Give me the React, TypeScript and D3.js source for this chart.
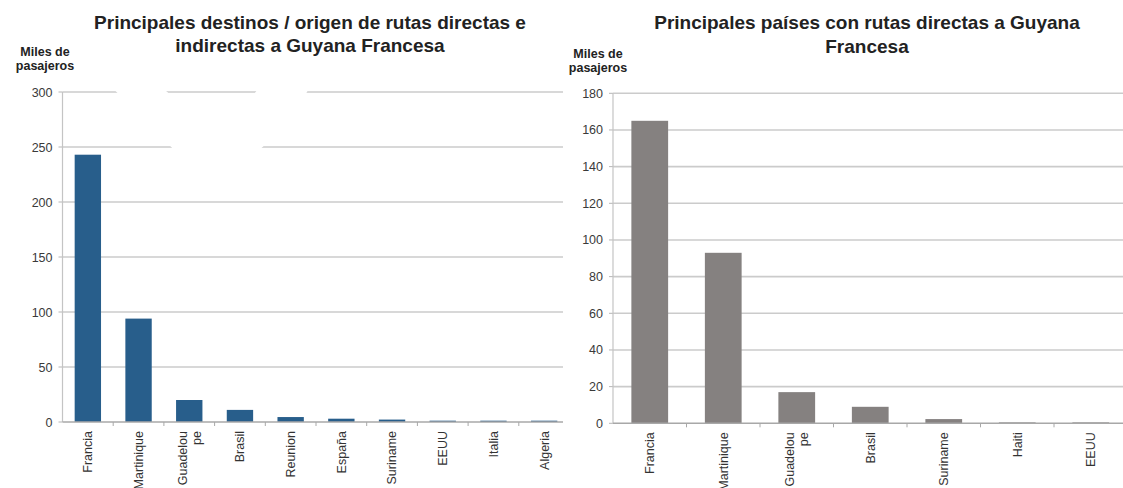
import * as d3 from 'd3'

// left chart: destinos / origen (directas e indirectas)
const leftCategories = ['Francia', 'Martinique', 'Guadelou\npe', 'Brasil', 'Reunion', 'España', 'Suriname', 'EEUU', 'Italia', 'Algeria']
const leftValues = [243, 94, 20, 11, 4.5, 3, 2.2, 1.2, 1.2, 1.2]
const leftTicks = [0, 50, 100, 150, 200, 250, 300]
const leftTitle = ['Principales destinos / origen de rutas directas e', 'indirectas a Guyana Francesa']

// right chart: países con rutas directas
const rightCategories = ['Francia', 'Martinique', 'Guadelou\npe', 'Brasil', 'Suriname', 'Haiti', 'EEUU']
const rightValues = [165, 93, 17, 9, 2.3, 0.5, 0.5]
const rightTicks = [0, 20, 40, 60, 80, 100, 120, 140, 160, 180]
const rightTitle = ['Principales países con rutas directas a Guyana', 'Francesa']

const unitLabel = ['Miles de', 'pasajeros']

const W = 1123
const H = 488
const FONT = 'Arial, "Liberation Sans", Helvetica, sans-serif'

interface PanelProps {
  categories: string[]
  values: number[]
  ticks: number[]
  title: string[]
  color: string
  left: number
  bandEnd: number
  gridEnd: number
  top: number
  bottom: number
  padding: number
  titleX: number
  titleY: number[]
  unitX: number
  unitY: number[]
  overlay?: boolean
}

const Panel = (p: PanelProps) => {
  const x = d3.scaleBand<string>().domain(p.categories).range([p.left, p.bandEnd]).paddingInner(p.padding).paddingOuter(p.padding / 2)
  const y = d3.scaleLinear().domain([0, d3.max(p.ticks) || 0]).range([p.bottom, p.top])
  const step = x.step()
  return (
    <g>
      {p.ticks.map(t => (
        <g key={t}>
          {t > 0 && <line x1={p.left} x2={p.gridEnd} y1={y(t)} y2={y(t)} stroke="#cbcbcb" strokeWidth={1.6} />}
          <line x1={p.left - 4} x2={p.left} y1={y(t)} y2={y(t)} stroke="#b5b5b5" strokeWidth={1} />
          <text x={p.left - 10} y={y(t)} dy="0.36em" textAnchor="end" fontSize={12.5} fill="#3a3a3a" fontFamily={FONT}>{t}</text>
        </g>
      ))}
      <line x1={p.left} x2={p.left} y1={p.top} y2={p.bottom} stroke="#c4c4c4" strokeWidth={1.2} />
      {p.categories.map((c, i) => (
        <rect key={c} x={x(c)} y={y(p.values[i])} width={x.bandwidth()} height={p.bottom - y(p.values[i])} fill={p.color} />
      ))}
      <line x1={p.left} x2={p.gridEnd} y1={p.bottom} y2={p.bottom} stroke="#a8a8a8" strokeWidth={1.4} />
      {p.categories.map((c, i) => {
        const bx = p.left + step * (i + 1)
        return bx < p.gridEnd ? <line key={c} x1={bx} x2={bx} y1={p.bottom} y2={p.bottom + 4} stroke="#a8a8a8" strokeWidth={1} /> : null
      })}
      {p.overlay && (
        <path
          d="M25,0 L65,0 L215,135 Q285,75 293,0 L333,0 Q330,110 211,187 Z"
          fill="#ffffff"
        />
      )}
      {p.categories.map(c => {
        const lines = c.split('\n')
        const cx = (x(c) || 0) + x.bandwidth() / 2
        const off = -(lines.length - 1) * 0.55
        return (
          <text key={c} transform={`translate(${cx},${p.bottom + 9}) rotate(-90)`} textAnchor="end" fontSize={12.5} fill="#333" fontFamily={FONT}>
            {lines.map((l, j) => (
              <tspan key={j} x={0} dy={j === 0 ? `${off + 0.35}em` : '1.1em'}>{l}</tspan>
            ))}
          </text>
        )
      })}
      {p.title.map((t, i) => (
        <text key={i} x={p.titleX} y={p.titleY[i]} textAnchor="middle" fontSize={19} fontWeight="bold" fill="#222" fontFamily={FONT}>{t}</text>
      ))}
      {unitLabel.map((t, i) => (
        <text key={i} x={p.unitX} y={p.unitY[i]} textAnchor="middle" fontSize={12.5} fontWeight="bold" fill="#222" fontFamily={FONT}>{t}</text>
      ))}
    </g>
  )
}

export default function App() {
  return (
    <svg width={W} height={H} style={{ position: 'absolute', left: 0, top: 0, display: 'block', background: '#fff' }}>
      <rect width={W} height={H} fill="#fff" />
      <Panel
        categories={leftCategories}
        values={leftValues}
        ticks={leftTicks}
        title={leftTitle}
        color="#285e8b"
        left={62.5}
        bandEnd={569.5}
        gridEnd={563}
        top={92}
        bottom={422}
        padding={0.48}
        titleX={310}
        titleY={[29, 52]}
        unitX={45}
        unitY={[56, 70]}
        overlay
      />
      <Panel
        categories={rightCategories}
        values={rightValues}
        ticks={rightTicks}
        title={rightTitle}
        color="#858180"
        left={613}
        bandEnd={1127.5}
        gridEnd={W}
        top={93.3}
        bottom={423.3}
        padding={0.5}
        titleX={867}
        titleY={[29, 53]}
        unitX={598}
        unitY={[58, 72]}
      />
    </svg>
  )
}
